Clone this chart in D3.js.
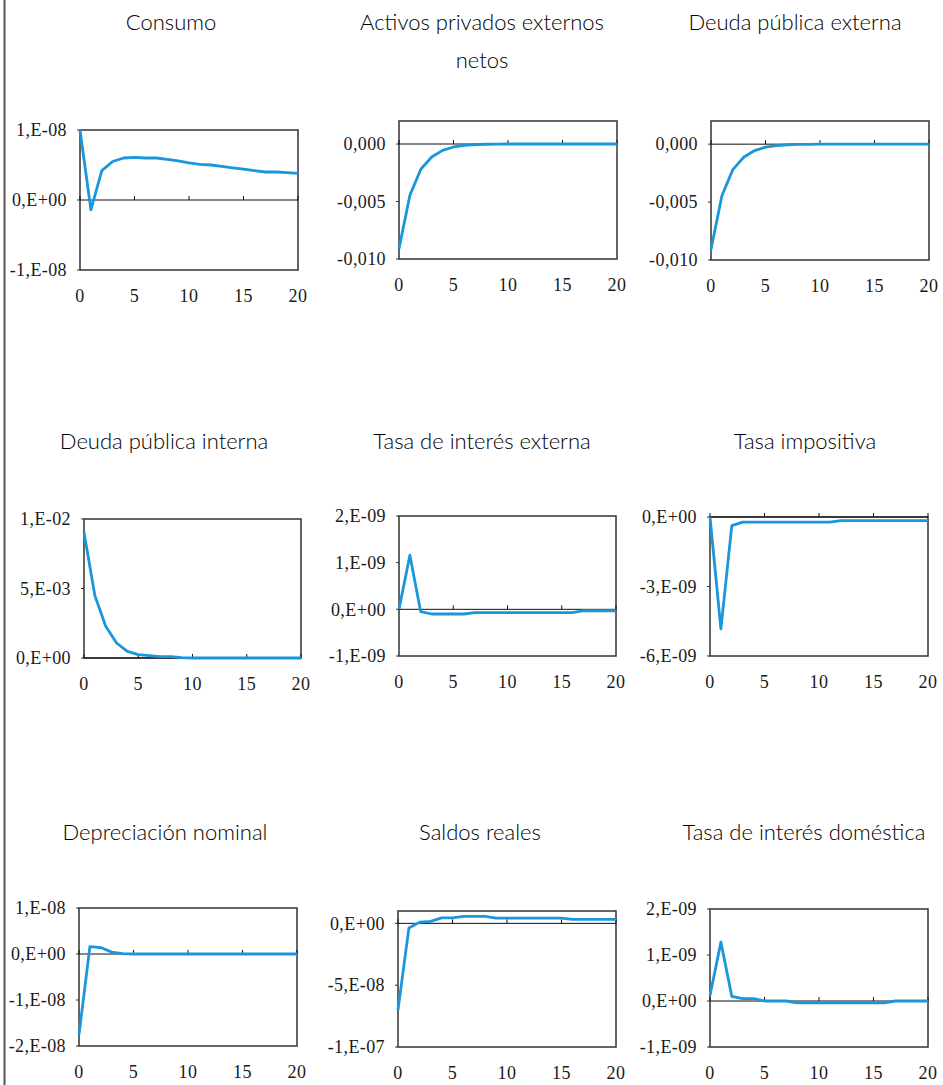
<!DOCTYPE html>
<html>
<head>
<meta charset="utf-8">
<script src="https://cdn.jsdelivr.net/npm/d3@7"></script>
<style>
  body { margin: 0; background: #fff; }
  .title { font-family: Lato, "Open Sans", sans-serif; font-size: 22px; font-weight: 300; fill: #000; }
  .tick-label { font-family: "Liberation Serif", "Times New Roman", serif; font-size: 18px; fill: #1a1a1a; letter-spacing: 0.4px; }
</style>
</head>
<body>
<div id="visualize"></div>
<script>
// periods 0..20
var periods = d3.range(0, 21);

// impulse responses
var consumo = [1.0e-8, -0.14e-8, 0.42e-8, 0.55e-8, 0.60e-8, 0.61e-8, 0.60e-8, 0.60e-8, 0.58e-8, 0.56e-8, 0.53e-8,
  0.51e-8, 0.50e-8, 0.48e-8, 0.46e-8, 0.44e-8, 0.42e-8, 0.40e-8, 0.40e-8, 0.39e-8, 0.38e-8];
var activos = [-0.0091, -0.00446, -0.0022, -0.00113, -0.00055, -0.00026, -0.00012, -0.00005, -0.00002, -0.00001, 0,
  0, 0, 0, 0, 0, 0, 0, 0, 0, 0];
var deudaExterna = [-0.0091, -0.00446, -0.0022, -0.00113, -0.00055, -0.00026, -0.00012, -0.00005, -0.00002, -0.00001, 0,
  0, 0, 0, 0, 0, 0, 0, 0, 0, 0];
var deudaInterna = [0.00904, 0.00449, 0.00228, 0.00108, 0.00048, 0.00024, 0.00017, 0.0001, 0.0001, 0.00002, 0,
  0, 0, 0, 0, 0, 0, 0, 0, 0, 0];
var tasaExterna = [0, 1.16e-9, -0.05e-9, -0.1e-9, -0.1e-9, -0.1e-9, -0.1e-9, -0.07e-9, -0.07e-9, -0.07e-9, -0.07e-9,
  -0.07e-9, -0.07e-9, -0.07e-9, -0.07e-9, -0.07e-9, -0.07e-9, -0.03e-9, -0.03e-9, -0.03e-9, -0.03e-9];
var tasaImpositiva = [0, -4.83e-9, -0.37e-9, -0.22e-9, -0.22e-9, -0.22e-9, -0.22e-9, -0.22e-9, -0.22e-9, -0.22e-9, -0.22e-9,
  -0.22e-9, -0.16e-9, -0.16e-9, -0.16e-9, -0.16e-9, -0.16e-9, -0.16e-9, -0.16e-9, -0.16e-9, -0.16e-9];
var depreciacion = [-1.75e-8, 0.16e-8, 0.14e-8, 0.04e-8, 0.01e-8, 0, 0, 0, 0, 0, 0,
  0, 0, 0, 0, 0, 0, 0, 0, 0, 0];
var saldos = [-7.0e-8, -0.37e-8, 0.1e-8, 0.16e-8, 0.45e-8, 0.45e-8, 0.56e-8, 0.56e-8, 0.56e-8, 0.43e-8, 0.43e-8,
  0.43e-8, 0.43e-8, 0.43e-8, 0.43e-8, 0.43e-8, 0.32e-8, 0.32e-8, 0.32e-8, 0.32e-8, 0.32e-8];
var tasaDomestica = [0.12e-9, 1.28e-9, 0.10e-9, 0.05e-9, 0.05e-9, 0, 0, 0, -0.04e-9, -0.04e-9, -0.04e-9,
  -0.04e-9, -0.04e-9, -0.04e-9, -0.04e-9, -0.04e-9, -0.04e-9, 0, 0, 0, 0];

// titles
var titles = ["Consumo", "Activos privados externos|netos", "Deuda pública externa",
  "Deuda pública interna", "Tasa de interés externa", "Tasa impositiva",
  "Depreciación nominal", "Saldos reales", "Tasa de interés doméstica"];

// y tick values and labels
var yTicks = [
  [-1e-8, 0, 1e-8], [-0.010, -0.005, 0], [-0.010, -0.005, 0],
  [0, 0.005, 0.01], [-1e-9, 0, 1e-9, 2e-9], [-6e-9, -3e-9, 0],
  [-2e-8, -1e-8, 0, 1e-8], [-1e-7, -5e-8, 0], [-1e-9, 0, 1e-9, 2e-9]
];
var yTickLabels = [
  ["-1,E-08", "0,E+00", "1,E-08"], ["-0,010", "-0,005", "0,000"], ["-0,010", "-0,005", "0,000"],
  ["0,E+00", "5,E-03", "1,E-02"], ["-1,E-09", "0,E+00", "1,E-09", "2,E-09"], ["-6,E-09", "-3,E-09", "0,E+00"],
  ["-2,E-08", "-1,E-08", "0,E+00", "1,E-08"], ["-1,E-07", "-5,E-08", "0,E+00"], ["-1,E-09", "0,E+00", "1,E-09", "2,E-09"]
];
var yDomains = [
  [-1e-8, 1e-8], [-0.010, 0.002], [-0.010, 0.002],
  [0, 0.01], [-1e-9, 2e-9], [-6e-9, 0],
  [-2e-8, 1e-8], [-1e-7, 1e-8], [-1e-9, 2e-9]
];
var xTicks = [0, 5, 10, 15, 20];

var series = [consumo, activos, deudaExterna, deudaInterna, tasaExterna, tasaImpositiva, depreciacion, saldos, tasaDomestica];

// plot boxes [left, top, right, bottom] and title positions
var boxes = [
  [80, 130, 298, 270], [399, 121, 617, 259], [711, 121, 929, 260],
  [84, 519, 301, 658], [399, 516, 616, 656], [710, 517, 928, 656],
  [79, 908, 297, 1046], [398, 911, 616, 1047], [710, 909, 928, 1047]
];
var titleX = [171, 482, 795, 164, 482, 805, 165, 480, 804];
var titleY = [30, 30, 30, 449, 449, 449, 840, 840, 840];

var svg = d3.select("#visualize").append("svg")
    .attr("width", 943)
    .attr("height", 1085);

// left frame line
svg.append("line")
    .attr("x1", 4.5).attr("x2", 4.5)
    .attr("y1", 0).attr("y2", 1085)
    .attr("stroke", "#555")
    .attr("stroke-width", 2);

series.forEach(function(data, i) {
  var b = boxes[i];

  var x = d3.scaleLinear().domain([0, 20]).range([b[0], b[2]]);
  var y = d3.scaleLinear().domain(yDomains[i]).range([b[3], b[1]]);

  var g = svg.append("g");

  // title (may wrap)
  var lines = titles[i].split("|");
  lines.forEach(function(t, k) {
    g.append("text")
        .attr("class", "title")
        .attr("x", titleX[i])
        .attr("y", titleY[i] + k * 38)
        .attr("text-anchor", "middle")
        .text(t);
  });

  // box
  g.append("rect")
      .attr("x", b[0])
      .attr("y", b[1])
      .attr("width", b[2] - b[0])
      .attr("height", b[3] - b[1])
      .attr("fill", "none")
      .attr("stroke", "#333")
      .attr("stroke-width", 1.5);

  // y axis ticks + labels
  yTicks[i].forEach(function(v, k) {
    g.append("line")
        .attr("x1", b[0] - 3).attr("x2", b[0])
        .attr("y1", y(v)).attr("y2", y(v))
        .attr("stroke", "#333");
    g.append("text")
        .attr("class", "tick-label")
        .attr("x", b[0] - 13)
        .attr("y", y(v))
        .attr("dy", ".35em")
        .attr("text-anchor", "end")
        .text(yTickLabels[i][k]);
  });

  // zero line with tick marks
  var zy = y(0);
  g.append("line")
      .attr("x1", b[0]).attr("x2", b[2])
      .attr("y1", zy).attr("y2", zy)
      .attr("stroke", "#111")
      .attr("stroke-width", 1);

  xTicks.forEach(function(t) {
    g.append("line")
        .attr("x1", x(t)).attr("x2", x(t))
        .attr("y1", zy).attr("y2", zy - 4)
        .attr("stroke", "#111");
    g.append("text")
        .attr("class", "tick-label")
        .attr("x", x(t))
        .attr("y", b[3] + 32)
        .attr("text-anchor", "middle")
        .text(t);
  });

  // series line
  var line = d3.line()
      .x(function(d, k) { return x(periods[k]); })
      .y(function(d) { return y(d); });

  g.append("path")
      .datum(data)
      .attr("d", line)
      .attr("fill", "none")
      .attr("stroke", "#1a96db")
      .attr("stroke-width", 2.8)
      .attr("stroke-linejoin", "round");
});
</script>
</body>
</html>
